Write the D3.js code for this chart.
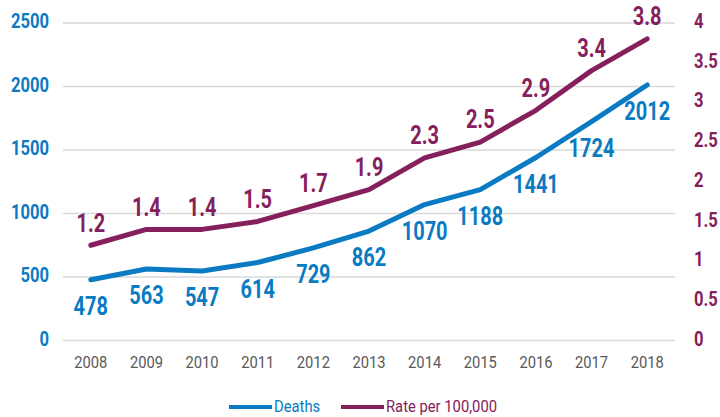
<!DOCTYPE html>
<html lang="en">
<head>
<meta charset="utf-8">
<title>Deaths and rate per 100,000</title>
<script src="https://cdn.jsdelivr.net/npm/d3@7"></script>
<style>
  body { margin: 0; background: #ffffff; }
  svg text { font-family: "Roboto", sans-serif; }
</style>
</head>
<body>
<script>
var years = ["2008","2009","2010","2011","2012","2013","2014","2015","2016","2017","2018"]
var deaths = [478, 563, 547, 614, 729, 862, 1070, 1188, 1441, 1724, 2012]
var rates = [1.2, 1.4, 1.4, 1.5, 1.7, 1.9, 2.3, 2.5, 2.9, 3.4, 3.8]
var leftTicks = [0, 500, 1000, 1500, 2000, 2500]
var rightTicks = [0, 0.5, 1, 1.5, 2, 2.5, 3, 3.5, 4]

var width = 720, height = 417
var blue = "#0a7bc2", purple = "#85205c"

var svg = d3.select("body").append("svg")
    .attr("width", width)
    .attr("height", height)

var x = d3.scalePoint().domain(years).range([63, 675]).padding(0.5)
var yL = d3.scaleLinear().domain([0, 2500]).range([340.5, 23])
var yR = d3.scaleLinear().domain([0, 4]).range([340.5, 23])

// squeeze text horizontally (the original font is a condensed one)
function place(px, py, sx){
  return function(d,i){ return "translate(" + px(d,i) + "," + py(d,i) + ") scale(" + sx + ",1)" }
}

// gridlines
svg.selectAll("line.grid")
   .data(leftTicks)
   .enter()
   .append("line")
   .attr("class", "grid")
   .attr("x1", 63).attr("x2", 675)
   .attr("y1", function(d){ return yL(d) })
   .attr("y2", function(d){ return yL(d) })
   .attr("stroke", "#d9d9d9")
   .attr("stroke-width", 1.5)

// left axis labels
svg.selectAll("text.yl")
   .data(leftTicks)
   .enter()
   .append("text")
   .attr("class", "yl")
   .attr("transform", place(function(){ return 49 }, function(d){ return yL(d) - 2 }, 0.83))
   .attr("dominant-baseline", "central")
   .attr("text-anchor", "end")
   .attr("font-size", 20)
   .attr("font-weight", "bold")
   .attr("fill", blue)
   .text(function(d){ return d })

// right axis labels
svg.selectAll("text.yr")
   .data(rightTicks)
   .enter()
   .append("text")
   .attr("class", "yr")
   .attr("transform", place(function(){ return 694 }, function(d){ return yR(d) - 2 }, 0.83))
   .attr("dominant-baseline", "central")
   .attr("font-size", 20)
   .attr("font-weight", "bold")
   .attr("fill", purple)
   .text(function(d){ return d })

// year labels
svg.selectAll("text.xl")
   .data(years)
   .enter()
   .append("text")
   .attr("class", "xl")
   .attr("transform", place(function(d){ return x(d) }, function(){ return 363 }, 0.92))
   .attr("dominant-baseline", "central")
   .attr("text-anchor", "middle")
   .attr("font-size", 16)
   .attr("fill", "#595959")
   .text(function(d){ return d })

// lines
var deathLine = d3.line()
    .x(function(d,i){ return x(years[i]) })
    .y(function(d){ return yL(d) })
var rateLine = d3.line()
    .x(function(d,i){ return x(years[i]) })
    .y(function(d){ return yR(d) })

svg.append("path")
   .datum(deaths)
   .attr("d", deathLine)
   .attr("fill", "none")
   .attr("stroke", blue)
   .attr("stroke-width", 5)
   .attr("stroke-linejoin", "round")
   .attr("stroke-linecap", "round")

svg.append("path")
   .datum(rates)
   .attr("d", rateLine)
   .attr("fill", "none")
   .attr("stroke", purple)
   .attr("stroke-width", 5)
   .attr("stroke-linejoin", "round")
   .attr("stroke-linecap", "round")

// value labels
svg.selectAll("text.dl")
   .data(deaths)
   .enter()
   .append("text")
   .attr("class", "dl")
   .attr("transform", place(function(d,i){ return x(years[i]) }, function(d){ return yL(d) + 27 }, 0.8))
   .attr("dominant-baseline", "central")
   .attr("text-anchor", "middle")
   .attr("font-size", 25)
   .attr("font-weight", "bold")
   .attr("fill", blue)
   .text(function(d){ return d })

svg.selectAll("text.rl")
   .data(rates)
   .enter()
   .append("text")
   .attr("class", "rl")
   .attr("transform", place(function(d,i){ return x(years[i]) }, function(d){ return yR(d) - 22 }, 0.8))
   .attr("dominant-baseline", "central")
   .attr("text-anchor", "middle")
   .attr("font-size", 25)
   .attr("font-weight", "bold")
   .attr("fill", purple)
   .text(function(d){ return d.toFixed(1) })

// legend
var legend = [["Deaths", blue, 229], ["Rate per 100,000", purple, 341]]
var lg = svg.selectAll("g.lg")
   .data(legend)
   .enter()
   .append("g")
   .attr("class", "lg")
lg.append("line")
  .attr("x1", function(d){ return d[2] })
  .attr("x2", function(d){ return d[2] + 43 })
  .attr("y1", 407).attr("y2", 407)
  .attr("stroke", function(d){ return d[1] })
  .attr("stroke-width", 4)
lg.append("text")
  .attr("transform", place(function(d){ return d[2] + 45 }, function(){ return 406 }, 0.87))
  .attr("dominant-baseline", "central")
  .attr("font-size", 17)
  .attr("fill", function(d){ return d[1] })
  .text(function(d){ return d[0] })
</script>
</body>
</html>
